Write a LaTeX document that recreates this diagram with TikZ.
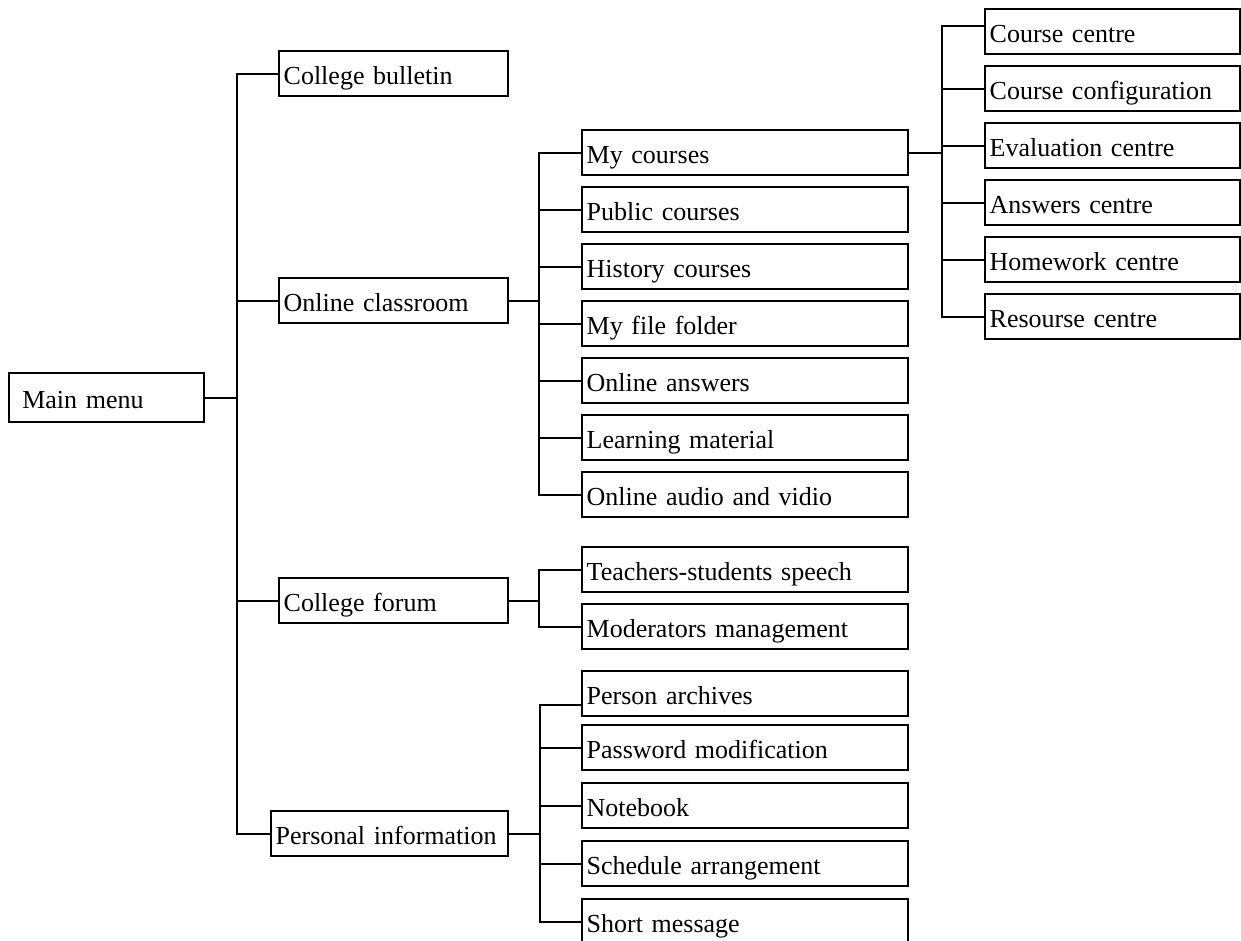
\documentclass[tikz,border=0pt]{standalone}
\usepackage{fontspec}
\setmainfont{Liberation Serif}

\tikzset{
  menubox/.style={draw, line width=1.5pt, anchor=north west, align=left,
    inner xsep=3.5pt, inner ysep=0pt, minimum height=34pt,
    text height=16pt, text depth=0pt,
    font=\fontsize{19.5}{22}\selectfont},
  topbox/.style={menubox, inner xsep=10pt, text width=126pt, minimum height=37pt},
  firstbox/.style={menubox, text width=165pt},
  secondbox/.style={menubox, text width=237.5pt},
  thirdbox/.style={menubox, text width=184.5pt},
  link/.style={line width=1.5pt}
}

\begin{document}
\begin{tikzpicture}[x=0.75pt,y=-0.75pt]
\useasboundingbox (0,0) rectangle (1241,940);

% branch lines
\coordinate (trunk) at (237,0);
\coordinate (classbranch) at (539,0);
\coordinate (forumbranch) at (539,0);
\coordinate (personalbranch) at (540,0);
\coordinate (coursebranch) at (942,0);

% main menu and first level
\node[topbox] (mainmenu) at (8,372) {Main menu};
\node[firstbox] (bulletin) at (278,50) {College bulletin};
\node[firstbox] (classroom) at (278,277) {Online classroom};
\node[firstbox] (forum) at (278,577) {College forum};
\node[firstbox, text width=171pt] (personal) at (270,810) {Personal information};

% online classroom
\node[secondbox] (mycourses) at (581,129) {My courses};
\node[secondbox] (public) at (581,186) {Public courses};
\node[secondbox] (history) at (581,243) {History courses};
\node[secondbox] (filefolder) at (581,300) {My file folder};
\node[secondbox] (onlineanswers) at (581,357) {Online answers};
\node[secondbox] (material) at (581,414) {Learning material};
\node[secondbox] (audio) at (581,471) {Online audio and vidio};

% my courses
\node[thirdbox] (centre) at (984,8) {Course centre};
\node[thirdbox] (config) at (984,65) {Course configuration};
\node[thirdbox] (evaluation) at (984,122) {Evaluation centre};
\node[thirdbox] (answerscentre) at (984,179) {Answers centre};
\node[thirdbox] (homework) at (984,236) {Homework centre};
\node[thirdbox] (resourse) at (984,293) {Resourse centre};

% college forum
\node[secondbox] (speech) at (581,546) {Teachers-students speech};
\node[secondbox] (moderators) at (581,603) {Moderators management};

% personal information
\node[secondbox] (archives) at (581,670) {Person archives};
\node[secondbox] (password) at (581,724) {Password modification};
\node[secondbox] (notebook) at (581,782) {Notebook};
\node[secondbox] (schedule) at (581,840) {Schedule arrangement};
\node[secondbox] (message) at (581,898) {Short message};

% connectors
\draw[link] (mainmenu.east) -- (trunk |- mainmenu.east);
\draw[link] (bulletin.west) -| (trunk |- personal.west) -- (personal.west);
\foreach \n in {classroom,forum}
  \draw[link] (\n.west) -- (trunk |- \n.west);

\draw[link] (classroom.east) -- (classbranch |- classroom.east);
\draw[link] (mycourses.west) -| (classbranch |- audio.west) -- (audio.west);
\foreach \n in {public,history,filefolder,onlineanswers,material}
  \draw[link] (\n.west) -- (classbranch |- \n.west);

\draw[link] (mycourses.east) -- (coursebranch |- mycourses.east);
\draw[link] ([yshift=4.5pt]centre.west) -| (coursebranch |- resourse.west) -- (resourse.west);
\foreach \n in {config,evaluation,answerscentre,homework}
  \draw[link] (\n.west) -- (coursebranch |- \n.west);

\draw[link] (forum.east) -- (forumbranch |- forum.east);
\draw[link] (speech.west) -| (forumbranch |- moderators.west) -- (moderators.west);

\draw[link] (personal.east) -- (personalbranch |- personal.east);
\draw[link] ([yshift=9pt]archives.south west) -| (personalbranch |- message.west) -- (message.west);
\foreach \n in {password,notebook,schedule}
  \draw[link] (\n.west) -- (personalbranch |- \n.west);
\end{tikzpicture}
\end{document}
